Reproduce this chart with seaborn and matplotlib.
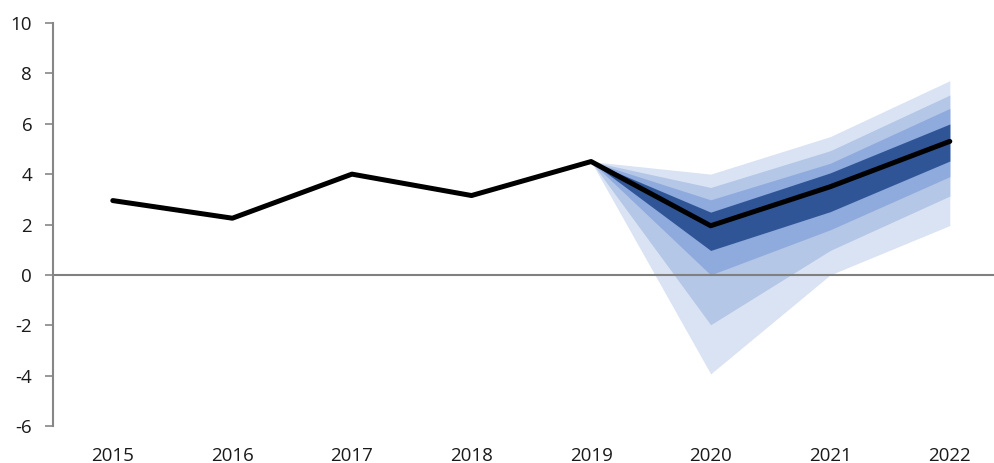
import matplotlib
matplotlib.use("Agg")
import matplotlib.pyplot as plt
import seaborn as sns
import pandas as pd

# data
years = ["2015", "2016", "2017", "2018", "2019", "2020", "2021", "2022"]
central = [2.95, 2.25, 4.0, 3.15, 4.5, 1.95, 3.5, 5.3]

# fan bands start at 2019 (all equal there)
fan_years = ["2019", "2020", "2021", "2022"]
outer_lo = [4.5, -3.93, 0.0, 1.96]
outer_hi = [4.5, 4.0, 5.49, 7.71]
mid_lo = [4.5, -1.98, 0.97, 3.13]
mid_hi = [4.5, 3.47, 4.93, 7.14]
inner_lo = [4.5, 0.0, 1.79, 3.9]
inner_hi = [4.5, 2.98, 4.43, 6.61]
core_lo = [4.5, 0.97, 2.51, 4.52]
core_hi = [4.5, 2.49, 4.05, 5.99]

band_colors = ["#dae3f3", "#b4c7e7", "#8faadc", "#2f5597"]

sns.set_theme(style="white")
plt.rcParams["font.family"] = ["Open Sans", "DejaVu Sans"]
plt.rcParams["axes.unicode_minus"] = False

df = pd.DataFrame({"x": range(len(years)), "value": central})
fx = [years.index(y) for y in fan_years]

fig = plt.figure(figsize=(9.95, 4.63), dpi=100)
ax = fig.add_axes([53 / 995, 37 / 463, 956.6 / 995, 403 / 463])

bands = [(outer_lo, outer_hi), (mid_lo, mid_hi), (inner_lo, inner_hi), (core_lo, core_hi)]
for (lo, hi), c in zip(bands, band_colors):
    ax.fill_between(fx, lo, hi, color=c, linewidth=0, zorder=1)

ax.axhline(0, color="#808080", lw=1.5, zorder=2)

sns.lineplot(data=df, x="x", y="value", color="black", lw=3.6, ax=ax, zorder=3)

ax.set_xlim(-0.5, 7.5)
ax.set_ylim(-6, 10)
ax.set_yticks(range(-6, 11, 2))
ax.set_xticks(range(len(years)))
ax.set_xticklabels(years)
ax.set_xlabel("")
ax.set_ylabel("")

for s in ["top", "right", "bottom"]:
    ax.spines[s].set_visible(False)
ax.spines["left"].set_color("#868686")
ax.spines["left"].set_linewidth(1.5)

ax.tick_params(axis="y", direction="out", length=6, width=1.2, color="#868686",
               pad=9, labelsize=13.5, labelcolor="#1a1a1a", left=True)
ax.tick_params(axis="x", length=0, pad=15, labelsize=13.5, labelcolor="#1a1a1a")

fig.savefig("out.png", dpi=100)
